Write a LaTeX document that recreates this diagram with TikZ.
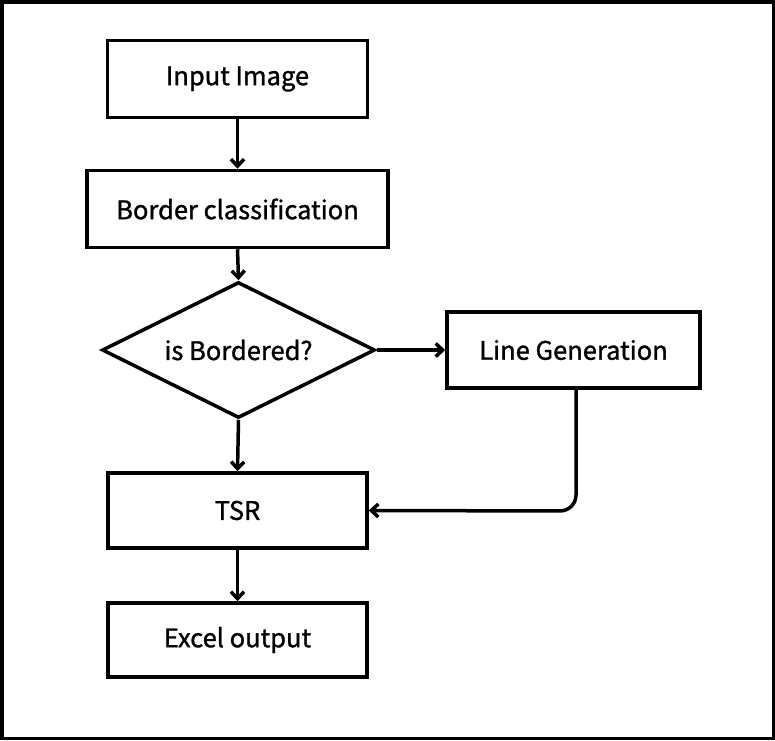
\documentclass[tikz,border=0pt]{standalone}
\usepackage{fontspec}
\setmainfont{Noto Sans CJK KR}[FakeBold=1.2]
\usetikzlibrary{shapes.geometric,arrows.meta}
\begin{document}
\begin{tikzpicture}[x=1pt,y=-1pt,
  box/.style={draw,line width=3.5pt,rectangle,inner sep=0pt,font=\fontsize{25.5}{30}\selectfont},
  decision/.style={draw,line width=3.5pt,diamond,aspect=2,inner sep=0pt,minimum width=273pt,minimum height=136pt,font=\fontsize{25.5}{30}\selectfont},
  conn/.style={line width=3.5pt,-{Straight Barb[length=7pt,width=13pt,line width=3.5pt]}}]
\useasboundingbox (0,0) rectangle (775,740);
\draw[line width=3.5pt] (1.75,1.75) rectangle (773.25,738.25);
\node[box,minimum width=260pt,minimum height=77pt] (inp) at (237.5,79) {Input Image};
\node[box,minimum width=301pt,minimum height=77pt] (bc) at (237.5,209) {Border classification};
\node[decision] (dec) at (238.5,350) {is Bordered?};
\node[box,minimum width=253pt,minimum height=76pt] (lg) at (573.5,350) {Line Generation};
\node[box,minimum width=259pt,minimum height=75pt] (tsr) at (237.5,510.5) {TSR};
\node[box,minimum width=259pt,minimum height=74pt] (ex) at (237.5,640) {Excel output};
\coordinate (bend) at (576,511);
\draw[conn] (inp.south) -- (bc.north);
\draw[conn] (bc.south) -- (dec.north);
\draw[conn] (dec.east) -- (lg.west);
\draw[conn] (dec.south) -- (tsr.north);
\draw[conn] (tsr.south) -- (ex.north);
\draw[conn,rounded corners=16pt] (lg.south -| bend) -- (bend) -- (tsr.east);
\end{tikzpicture}
\end{document}
